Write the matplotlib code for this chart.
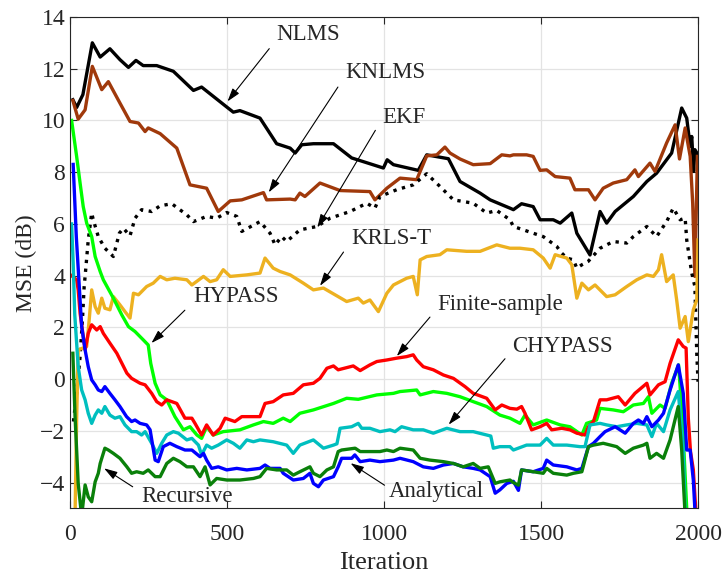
import matplotlib
matplotlib.use("Agg")
import matplotlib.pyplot as plt

plt.rcParams["font.family"] = ["Liberation Serif", "DejaVu Serif"]

# ---- data (iteration, MSE in dB) ----
nlms_it = [9, 21, 41, 71, 96, 127, 159, 186, 210, 233, 276, 329, 393, 419, 446, 499, 520, 541, 605, 658,
           701, 717, 738, 775, 839, 897, 998, 1010, 1030, 1109, 1136, 1205, 1242, 1306, 1338, 1401, 1412, 1438,
           1475, 1497, 1539, 1561, 1598, 1614, 1656, 1688, 1709, 1736, 1794, 1837, 1868, 1916, 1948, 1964, 1975,
           1980, 1986, 1990, 2000]
nlms_db = [10.8, 10.5, 11.0, 13.0, 12.45, 12.77, 12.35, 12.05, 12.32, 12.12, 12.12, 11.9, 11.16, 11.29, 11.03,
           10.52, 10.32, 10.38, 10.09, 9.1, 8.93, 8.74, 9.06, 9.1, 9.1, 8.55, 8.16, 8.48, 8.29, 8.07, 8.67, 8.52,
           7.64, 7.19, 6.93, 6.61, 6.55, 6.78, 6.67, 6.16, 6.16, 6.03, 6.42, 5.64, 4.8, 6.48, 6.03, 6.48, 7.06,
           7.64, 7.96, 8.74, 10.48, 10.09, 9.0, 9.38, 8.03, 8.87, 8.67]

knlms_it = [9, 26, 48, 71, 101, 122, 159, 191, 218, 239, 249, 287, 340, 382, 435, 472, 510, 547, 616, 626,
            701, 717, 732, 748, 796, 860, 955, 971, 1009, 1051, 1104, 1136, 1168, 1194, 1210, 1242, 1284, 1338,
            1375, 1401, 1412, 1454, 1475, 1497, 1518, 1545, 1592, 1608, 1651, 1672, 1698, 1730, 1773, 1799, 1810,
            1847, 1863, 1900, 1927, 1941, 1959, 1975, 1983, 1990, 1998]
knlms_db = [10.77, 10.05, 10.41, 12.09, 11.19, 11.5, 10.67, 9.96, 9.9, 9.57, 9.71, 9.49, 8.93, 7.51, 7.38, 6.48,
            6.89, 6.93, 7.21, 6.93, 6.96, 6.93, 7.19, 7.06, 7.58, 7.29, 7.25, 6.93, 7.38, 7.77, 7.71, 8.63, 8.67,
            8.97, 8.74, 8.51, 8.29, 8.33, 8.67, 8.63, 8.67, 8.67, 8.61, 8.07, 8.09, 7.83, 7.77, 7.32, 7.32, 6.93,
            7.38, 7.58, 7.71, 8.09, 7.83, 8.35, 8.03, 9.13, 9.83, 8.51, 9.71, 8.61, 6.8, 3.97, 8.61]

ekf_it = [11, 21, 32, 40, 45, 48, 58, 69, 74, 90, 111, 138, 157, 170, 191, 207, 228, 260, 287, 324, 372, 393,
          435, 467, 499, 531, 547, 605, 637, 653, 674, 690, 732, 786, 828, 892, 945, 971, 987, 1040, 1093, 1136,
          1178, 1221, 1284, 1327, 1359, 1401, 1412, 1444, 1475, 1507, 1550, 1566, 1582, 1603, 1614, 1630, 1650,
          1688, 1730, 1773, 1794, 1837, 1868, 1900, 1921, 1943, 1959, 1964, 1980, 1990, 1996, 2000]
ekf_db = [-1.64, -0.55, 0.87, 2.4, 3.58, 3.97, 5.38, 6.42, 6.16, 5.51, 5.06, 4.74, 5.64, 5.83, 5.54, 6.22, 6.55,
          6.48, 6.7, 6.78, 6.35, 6.09, 6.29, 6.22, 6.44, 6.29, 5.71, 6.09, 5.64, 5.19, 5.51, 5.32, 5.77, 5.9, 6.22,
          6.48, 6.8, 6.61, 7.06, 7.32, 7.51, 7.94, 7.45, 6.93, 6.8, 6.42, 6.52, 6.16, 5.9, 5.77, 5.64, 5.51, 5.13,
          4.87, 4.68, 4.61, 4.29, 4.42, 4.55, 5.06, 5.32, 5.26, 5.51, 5.9, 5.51, 6.09, 6.61, 6.16, 6.22, 5.38, 4.1,
          3.58, 1.0, -0.1]

krls_it = [15, 21, 26, 53, 61, 69, 80, 90, 101, 111, 127, 138, 159, 175, 191, 202, 218, 244, 265, 287, 308, 334,
           372, 388, 425, 446, 467, 488, 510, 563, 605, 621, 647, 669, 701, 743, 775, 807, 844, 881, 918, 934, 955,
           982, 1009, 1030, 1051, 1072, 1093, 1106, 1115, 1136, 1178, 1200, 1263, 1306, 1359, 1401, 1433, 1475,
           1507, 1529, 1545, 1582, 1598, 1614, 1630, 1651, 1672, 1709, 1736, 1773, 1805, 1837, 1858, 1874, 1884,
           1900, 1921, 1932, 1943, 1959, 1969, 1985, 1996, 2000]
krls_db = [-6.0, -1.58, 1.13, 1.26, 2.29, 3.45, 2.8, 2.55, 3.13, 2.74, 2.68, 3.19, 2.87, 2.61, 2.36, 3.32, 3.26,
           3.58, 3.71, 3.97, 3.84, 3.9, 3.84, 3.64, 3.97, 3.77, 3.84, 4.23, 3.97, 4.03, 4.1, 4.68, 4.29, 4.16, 4.03,
           3.71, 3.45, 3.52, 3.26, 3.0, 3.13, 2.94, 3.06, 2.61, 3.32, 3.64, 3.77, 3.9, 3.97, 3.26, 4.61, 4.74, 4.81,
           5.0, 4.94, 4.94, 5.19, 5.06, 5.06, 5.0, 4.68, 4.29, 4.81, 4.68, 4.42, 3.13, 3.71, 3.45, 3.64, 3.19, 3.26,
           3.58, 3.84, 4.03, 3.97, 4.23, 4.81, 3.77, 4.03, 3.06, 1.97, 2.42, 1.45, 2.68, 3.06, 5.38]

hyp_it = [5, 21, 32, 42, 53, 69, 80, 96, 106, 138, 165, 186, 207, 233, 249, 257, 271, 287, 308, 334, 361, 382,
          404, 419, 435, 456, 488, 541, 584, 616, 647, 679, 701, 732, 775, 839, 881, 918, 977, 1030, 1051, 1104,
          1115, 1157, 1200, 1242, 1284, 1327, 1369, 1401, 1433, 1449, 1475, 1518, 1561, 1592, 1630, 1645, 1677,
          1688, 1730, 1762, 1794, 1826, 1842, 1853, 1879, 1895, 1916, 1938, 1950, 1964, 1970]
hyp_db = [10.0, 8.61, 7.58, 6.67, 6.03, 5.51, 4.74, 4.16, 3.84, 3.13, 2.48, 2.03, 1.84, 1.52, 1.32, 0.61, -0.16,
          -0.61, -0.8, -1.45, -1.96, -1.84, -2.16, -2.29, -1.84, -2.16, -2.03, -1.96, -1.77, -1.64, -1.71, -1.51,
          -1.64, -1.32, -1.19, -0.94, -0.74, -0.78, -0.61, -0.55, -0.48, -0.42, -0.61, -0.48, -0.55, -0.68, -0.87,
          -1.06, -1.39, -1.51, -1.71, -1.39, -1.77, -1.58, -1.77, -1.84, -2.16, -1.71, -1.58, -1.13, -1.19, -1.26,
          -1.0, -0.94, -0.68, -1.32, -1.0, -1.13, -0.16, 0.55, -1.5, -5.0, -6.0]

fin_it = [5, 21, 26, 32, 48, 58, 69, 85, 96, 106, 127, 149, 181, 196, 223, 239, 260, 276, 292, 308, 340, 366,
          388, 398, 419, 435, 456, 478, 494, 525, 547, 605, 621, 647, 679, 711, 743, 775, 796, 818, 839, 854, 902,
          924, 955, 977, 1009, 1040, 1072, 1093, 1104, 1125, 1157, 1189, 1221, 1258, 1284, 1327, 1354, 1375, 1401,
          1423, 1438, 1449, 1470, 1497, 1518, 1534, 1566, 1592, 1614, 1640, 1651, 1667, 1688, 1709, 1746, 1768,
          1799, 1837, 1847, 1874, 1895, 1911, 1937, 1953, 1962, 1969, 1976, 1985, 1995]
fin_db = [4.0, 3.84, 3.45, 2.55, 1.13, 1.77, 2.1, 1.9, 2.03, 1.77, 1.39, 1.0, 0.23, 0.03, -0.16, -0.22, -0.55,
          -0.87, -1.0, -0.8, -0.94, -1.51, -1.51, -1.71, -2.16, -1.77, -2.16, -1.9, -1.51, -1.64, -1.45, -1.45,
          -0.94, -0.87, -0.61, -0.55, -0.22, -0.16, 0.03, 0.42, 0.51, 0.36, 0.51, 0.33, 0.55, 0.68, 0.74, 0.81,
          0.87, 0.94, 0.74, 0.48, 0.36, 0.16, 0.03, -0.29, -0.55, -0.74, -1.19, -1.0, -1.13, -1.16, -1.06, -1.32,
          -1.96, -1.84, -1.71, -1.96, -1.9, -1.96, -2.09, -2.16, -1.84, -1.64, -0.8, -0.8, -0.68, -1.0, -0.55,
          -0.16, -0.61, -0.22, -0.1, 0.61, 1.52, 1.26, 1.2, -1.5, -2.8, -3.5, -5.5]

chyp_it = [5, 10, 15, 26, 37, 48, 58, 69, 80, 90, 101, 111, 127, 143, 159, 175, 196, 212, 228, 239, 260, 276,
           292, 308, 329, 345, 372, 388, 409, 419, 435, 451, 472, 499, 520, 541, 563, 584, 605, 647, 690, 711, 732,
           775, 807, 839, 850, 860, 897, 918, 929, 955, 987, 1019, 1035, 1056, 1093, 1125, 1157, 1200, 1242, 1284,
           1327, 1340, 1348, 1369, 1401, 1412, 1454, 1497, 1518, 1539, 1582, 1624, 1640, 1656, 1688, 1709, 1741,
           1773, 1805, 1837, 1853, 1868, 1890, 1911, 1937, 1953, 1959, 1965]
chyp_db = [6.0, 4.5, 2.5, 0.48, -0.42, -0.8, -1.32, -1.71, -1.39, -1.19, -1.32, -1.06, -1.39, -1.51, -1.45, -1.77,
           -2.03, -2.03, -2.16, -2.03, -2.48, -2.87, -2.48, -2.16, -2.03, -2.09, -2.35, -2.29, -2.55, -2.93, -2.55,
           -2.67, -2.55, -2.35, -2.48, -2.67, -2.35, -2.42, -2.35, -2.42, -2.55, -2.87, -2.55, -2.35, -2.67, -2.55,
           -2.5, -1.9, -1.84, -1.71, -1.9, -1.9, -2.03, -1.96, -2.03, -1.84, -1.96, -1.96, -2.09, -1.9, -2.03,
           -2.03, -2.16, -2.2, -2.67, -2.61, -2.61, -2.74, -2.55, -2.55, -2.29, -2.55, -2.55, -2.61, -2.61, -1.77,
           -1.71, -1.77, -1.84, -1.77, -1.71, -1.77, -2.22, -1.71, -2.03, -1.19, -0.48, -2.74, -5.0, -6.0]

ana_it = [10, 20, 32, 37, 48, 58, 69, 80, 90, 101, 111, 127, 143, 159, 180, 196, 207, 223, 244, 255, 271, 281,
          297, 318, 340, 366, 388, 414, 425, 435, 451, 472, 499, 531, 563, 605, 621, 637, 669, 679, 711, 743, 764,
          775, 791, 807, 839, 854, 865, 897, 907, 924, 955, 987, 1030, 1051, 1093, 1125, 1157, 1189, 1221, 1252,
          1284, 1306, 1338, 1354, 1369, 1391, 1412, 1428, 1438, 1475, 1507, 1518, 1539, 1582, 1614, 1630, 1651,
          1667, 1688, 1704, 1736, 1768, 1794, 1810, 1826, 1837, 1853, 1874, 1890, 1911, 1937, 1953, 1964, 1975,
          1985, 1992]
ana_db = [8.3, 5.5, 3.06, 2.03, 1.13, 0.48, -0.03, -0.22, -0.42, -0.48, -0.29, -0.55, -0.8, -1.06, -1.45, -1.64,
          -1.58, -1.71, -1.77, -1.96, -3.13, -3.19, -2.61, -2.48, -2.61, -2.74, -2.74, -3.0, -2.87, -3.13, -3.45,
          -3.39, -3.51, -3.45, -3.51, -3.45, -3.32, -3.45, -3.45, -3.64, -3.9, -3.84, -3.64, -4.03, -4.16, -3.9,
          -3.77, -3.39, -3.06, -3.06, -2.93, -3.19, -3.13, -3.19, -3.13, -3.06, -3.19, -3.39, -3.45, -3.32, -3.26,
          -3.39, -3.45, -3.51, -3.77, -4.41, -4.28, -4.03, -3.95, -4.3, -3.51, -3.58, -3.45, -3.13, -3.32, -3.39,
          -3.51, -3.45, -2.61, -2.48, -2.22, -2.03, -1.84, -2.09, -1.71, -1.58, -1.71, -1.45, -1.84, -1.58, -1.32,
          -0.42, 0.55, -0.55, -2.74, -2.74, -3.9, -5.5]

rec_it = [9, 16, 26, 37, 48, 58, 69, 80, 90, 96, 111, 122, 138, 159, 181, 196, 212, 233, 249, 271, 287, 308, 329,
          350, 372, 393, 414, 430, 446, 467, 499, 541, 584, 605, 626, 658, 690, 711, 732, 764, 775, 796, 818, 839,
          854, 865, 908, 924, 955, 987, 1009, 1030, 1051, 1093, 1115, 1146, 1189, 1221, 1252, 1284, 1306, 1332,
          1354, 1369, 1401, 1412, 1428, 1438, 1475, 1507, 1518, 1539, 1582, 1603, 1630, 1651, 1667, 1698, 1741,
          1768, 1794, 1826, 1837, 1847, 1868, 1890, 1911, 1937, 1948, 1959]
rec_db = [1.0, -1.45, -4.03, -5.3, -4.09, -4.55, -4.74, -3.97, -3.64, -3.26, -2.67, -2.74, -2.87, -3.06, -3.39,
          -3.64, -3.58, -3.64, -3.51, -3.77, -3.77, -3.26, -3.06, -3.19, -3.39, -3.39, -3.77, -3.39, -4.09, -3.84,
          -3.9, -3.9, -3.84, -3.77, -3.45, -3.51, -3.51, -3.71, -3.58, -3.39, -3.64, -3.77, -3.51, -3.39, -2.8,
          -2.74, -2.67, -2.8, -2.8, -2.8, -2.74, -2.8, -2.67, -2.74, -3.06, -3.13, -3.19, -3.26, -3.39, -3.26,
          -3.45, -3.39, -4.03, -3.97, -3.9, -4.0, -4.1, -3.51, -3.58, -3.64, -3.45, -3.64, -3.71, -3.64, -3.58,
          -2.61, -2.55, -2.48, -2.61, -2.87, -2.67, -2.55, -2.48, -3.06, -2.87, -3.06, -2.35, -1.06, -2.74, -5.3]

x_ticks = [0, 500, 1000, 1500, 2000]
y_ticks = [-4, -2, 0, 2, 4, 6, 8, 10, 12, 14]

fig = plt.figure(figsize=(7.22, 5.75), dpi=100)
ax = fig.add_axes([0.097, 0.1157, 0.8698, 0.8548])

lw = 2.4
ax.plot(nlms_it, nlms_db, color="black", lw=lw)
ax.plot(knlms_it, knlms_db, color="#A0390B", lw=lw)
ax.plot(ekf_it, ekf_db, color="black", lw=lw, linestyle=":")
ax.plot(krls_it, krls_db, color="#EDB120", lw=lw)
ax.plot(hyp_it, hyp_db, color="#00FF00", lw=lw)
ax.plot(fin_it, fin_db, color="#FF0000", lw=lw)
ax.plot(chyp_it, chyp_db, color="#00BFBF", lw=lw)
ax.plot(ana_it, ana_db, color="#0000FF", lw=lw)
ax.plot(rec_it, rec_db, color="#0A800A", lw=lw)

ax.set_xlim(0, 2000)
ax.set_ylim(-5, 14)
ax.set_xticks(x_ticks)
ax.set_yticks(y_ticks)
ax.grid(True, color="#E3E3E3", lw=0.9)
ax.set_axisbelow(True)
ax.tick_params(direction="in", top=True, right=True, labelsize=17, colors="#262626", length=5)
ax.tick_params(axis="x", pad=11)
for s in ax.spines.values():
    s.set_color("#262626")
    s.set_linewidth(0.8)
ax.set_xlabel("Iteration", fontsize=19, color="#262626", labelpad=5)
ax.set_ylabel("MSE (dB)", fontsize=17, color="#262626", labelpad=2)

# annotations: (label, text pos, arrow tail, arrow tip)
notes = [
    ("NLMS", (656, 13.31), (640, 12.86), (496, 10.65)),
    ("KNLMS", (876, 11.85), (858, 11.38), (628, 7.13)),
    ("EKF", (993, 10.1), (977, 9.71), (783, 5.77)),
    ("KRLS-T", (897, 5.42), (876, 5.0), (791, 3.52)),
    ("HYPASS", (391, 3.19), (372, 2.74), (253, 1.32)),
    ("Finite-sample", (1170, 2.87), (1152, 2.48), (1035, 0.81)),
    ("CHYPASS", (1407, 1.26), (1391, 0.87), (1200, -1.84)),
    ("Recursive", (228, -4.55), (207, -4.22), (101, -3.39)),
    ("Analytical", (1014, -4.35), (1009, -4.16), (886, -3.19)),
]
for label, tpos, tail, tip in notes:
    ax.annotate("", xy=tip, xytext=tail,
                arrowprops=dict(arrowstyle="-|>,head_length=0.8,head_width=0.25", color="black", lw=0.8))
    ax.text(tpos[0], tpos[1], label, fontsize=16.5, color="#262626", ha="left", va="center")

fig.savefig("out.png", dpi=100)
